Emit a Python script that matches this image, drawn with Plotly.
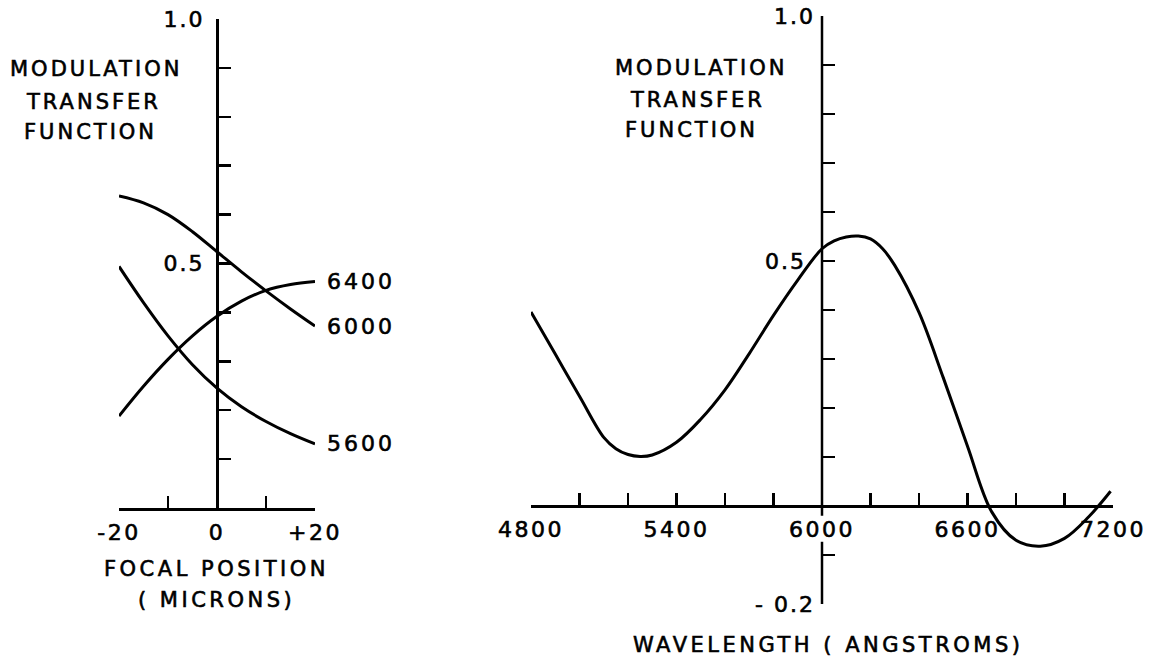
import plotly.graph_objects as go

# ---------------- data ----------------
focal_um = [-20, -15, -10, -5, 0, 5, 10, 15, 20]
mtf_5600 = [0.494, 0.420, 0.352, 0.293, 0.245, 0.207, 0.177, 0.152, 0.131]
mtf_6000 = [0.638, 0.624, 0.600, 0.565, 0.524, 0.483, 0.444, 0.407, 0.372]
mtf_6400 = [0.188, 0.249, 0.304, 0.352, 0.392, 0.423, 0.445, 0.457, 0.463]
curve_names = ["5600", "6000", "6400"]

wavelength_A = [4800, 4900, 5000, 5100, 5150, 5200, 5250, 5300, 5400, 5500,
                5600, 5700, 5800, 5900, 6000, 6050, 6100, 6150, 6200, 6250,
                6300, 6400, 6500, 6600, 6700, 6800, 6900, 7000, 7100, 7190]
mtf_wave = [0.396, 0.310, 0.224, 0.140, 0.117, 0.105, 0.101, 0.104, 0.130, 0.177,
            0.237, 0.311, 0.389, 0.461, 0.525, 0.541, 0.549, 0.551, 0.545, 0.525,
            0.491, 0.395, 0.262, 0.122, -0.012, -0.070, -0.082, -0.066, -0.022, 0.030]

focal_ticks = [-20, -10, 0, 10, 20]
focal_ticktext = ["-20", "", "0", "", "+20"]
left_y_ticks = [0.1, 0.2, 0.3, 0.4, 0.5, 0.6, 0.7, 0.8, 0.9, 1.0]
left_y_labels = {0.5: "0.5", 1.0: "1.0"}
wave_ticks = [4800, 5000, 5200, 5400, 5600, 5800, 6000, 6200, 6400, 6600, 6800, 7000, 7200]
wave_labels = {4800: "4800", 5400: "5400", 6000: "6000", 6600: "6600", 7200: "7200"}
right_y_ticks = [-0.2, -0.1, 0.1, 0.2, 0.3, 0.4, 0.5, 0.6, 0.7, 0.8, 0.9, 1.0]
right_y_labels = {-0.2: "- 0.2", 0.5: "0.5\u00a0", 1.0: "1.0"}

y_title_lines = ["MODULATION", "TRANSFER", "FUNCTION"]
left_x_title = ["FOCAL POSITION", "( MICRONS)"]
right_x_title = "WAVELENGTH ( ANGSTROMS)"

# ---------------- layout helpers ----------------
OFF, W, H = 0, 1167, 662
FONT = "DejaVu Sans"


def px(sx):
    return (sx - OFF) / W


def py(sy):
    return 1 - (sy - OFF) / H


def ls(t, s):
    if not t:
        return ""
    return (f'<span style="letter-spacing:{s}px;stroke:black;stroke-width:0.6px">'
            f'{t}</span>')


L_XD = [px(119), px(315)]
L_YD = [py(508), py(19)]
R_XD = [px(531), px(1113)]
R_YD = [py(604), py(16)]
R_YR = [-0.2, 1.0]
R_XR = [4800, 7200]


def r_ypaper(v):
    return R_YD[0] + (v - R_YR[0]) / (R_YR[1] - R_YR[0]) * (R_YD[1] - R_YD[0])


def r_xpaper(v):
    return R_XD[0] + (v - R_XR[0]) / (R_XR[1] - R_XR[0]) * (R_XD[1] - R_XD[0])


def l_ypaper(v):
    return L_YD[0] + v * (L_YD[1] - L_YD[0])


def l_xpaper(v):
    return L_XD[0] + (v + 20) / 40 * (L_XD[1] - L_XD[0])


line_style = dict(color="black", width=3, shape="spline", smoothing=1.0)
num_font = dict(family=FONT, size=22, color="black")
txt_font = dict(family=FONT, size=21, color="black")

fig = go.Figure()
for name, ys in zip(curve_names, [mtf_5600, mtf_6000, mtf_6400]):
    fig.add_trace(go.Scatter(x=focal_um, y=ys, mode="lines", line=line_style,
                             xaxis="x", yaxis="y", showlegend=False,
                             hoverinfo="skip", name=name))
fig.add_trace(go.Scatter(x=wavelength_A, y=mtf_wave, mode="lines", line=line_style,
                         xaxis="x2", yaxis="y2", showlegend=False, hoverinfo="skip"))

axis_common = dict(showgrid=False, zeroline=False, linecolor="black", linewidth=2.5,
                   ticks="inside", ticklen=12, tickwidth=2.5, tickcolor="black",
                   tickfont=num_font, tickmode="array", fixedrange=True,
                   automargin=False, tickangle=0)

fig.update_layout(
    width=W, height=H, autosize=False,
    margin=dict(l=0, r=0, t=0, b=0, pad=0, autoexpand=False),
    paper_bgcolor="white", plot_bgcolor="rgba(0,0,0,0)",
    showlegend=False,
    xaxis=dict(domain=L_XD, range=[-20, 20], anchor="y", showline=True,
               tickvals=focal_ticks, ticktext=[ls(t, 2.5) for t in focal_ticktext],
               ticklabelstandoff=3, **axis_common),
    yaxis=dict(domain=L_YD, range=[0, 1], anchor="free", position=l_xpaper(0),
               showline=True, tickvals=left_y_ticks,
               ticktext=[ls(left_y_labels.get(v, ""), 2) for v in left_y_ticks],
               ticklabelstandoff=7, **axis_common),
    xaxis2=dict(domain=R_XD, range=R_XR, anchor="free", position=r_ypaper(0),
                showline=True, tickvals=wave_ticks,
                ticktext=[ls(wave_labels.get(v, ""), 2.5) for v in wave_ticks],
                ticklabelstandoff=3, **axis_common),
    yaxis2=dict(domain=R_YD, range=R_YR, anchor="free", position=r_xpaper(6000),
                showline=False, tickvals=right_y_ticks,
                ticktext=[ls(right_y_labels.get(v, ""), 2) for v in right_y_ticks],
                ticklabelstandoff=7, **axis_common),
)

# right y-axis line, broken where the "6000" label sits
for y0, y1 in [(1.0, -0.02), (-0.073, -0.2)]:
    fig.add_shape(type="line", xref="x2", yref="y2", x0=6000, x1=6000, y0=y0, y1=y1,
                  line=dict(color="black", width=2.5))

annotations = []
# curve labels at the right ends of the focal-position curves
for name, ys in zip(curve_names, [mtf_5600, mtf_6000, mtf_6400]):
    annotations.append(dict(text=ls(name, 3), x=l_xpaper(20) + 10 / W, y=l_ypaper(ys[-1]),
                            xref="paper", yref="paper", xanchor="left", yanchor="middle",
                            showarrow=False, font=num_font))

# y titles
for cx_list, ys_list in [([96, 93, 90], [69, 102, 132]), ([701, 697, 691], [68, 100, 130])]:
    for t, cx, cy in zip(y_title_lines, cx_list, ys_list):
        annotations.append(dict(text=ls(t, 3), x=px(cx), y=py(cy), xref="paper", yref="paper",
                                xanchor="center", yanchor="middle", showarrow=False,
                                font=txt_font))

# x titles
for t, cy in zip(left_x_title, [569, 600]):
    annotations.append(dict(text=ls(t, 3.5), x=l_xpaper(0), y=py(cy), xref="paper", yref="paper",
                            xanchor="center", yanchor="middle", showarrow=False, font=txt_font))
annotations.append(dict(text=ls(right_x_title, 3.5), x=px(828), y=py(645), xref="paper",
                        yref="paper", xanchor="center", yanchor="middle", showarrow=False,
                        font=txt_font))

fig.update_layout(annotations=annotations)
fig.write_html("out.html", config={"displayModeBar": False, "staticPlot": True},
               post_script="document.body.style.margin='0px';")
